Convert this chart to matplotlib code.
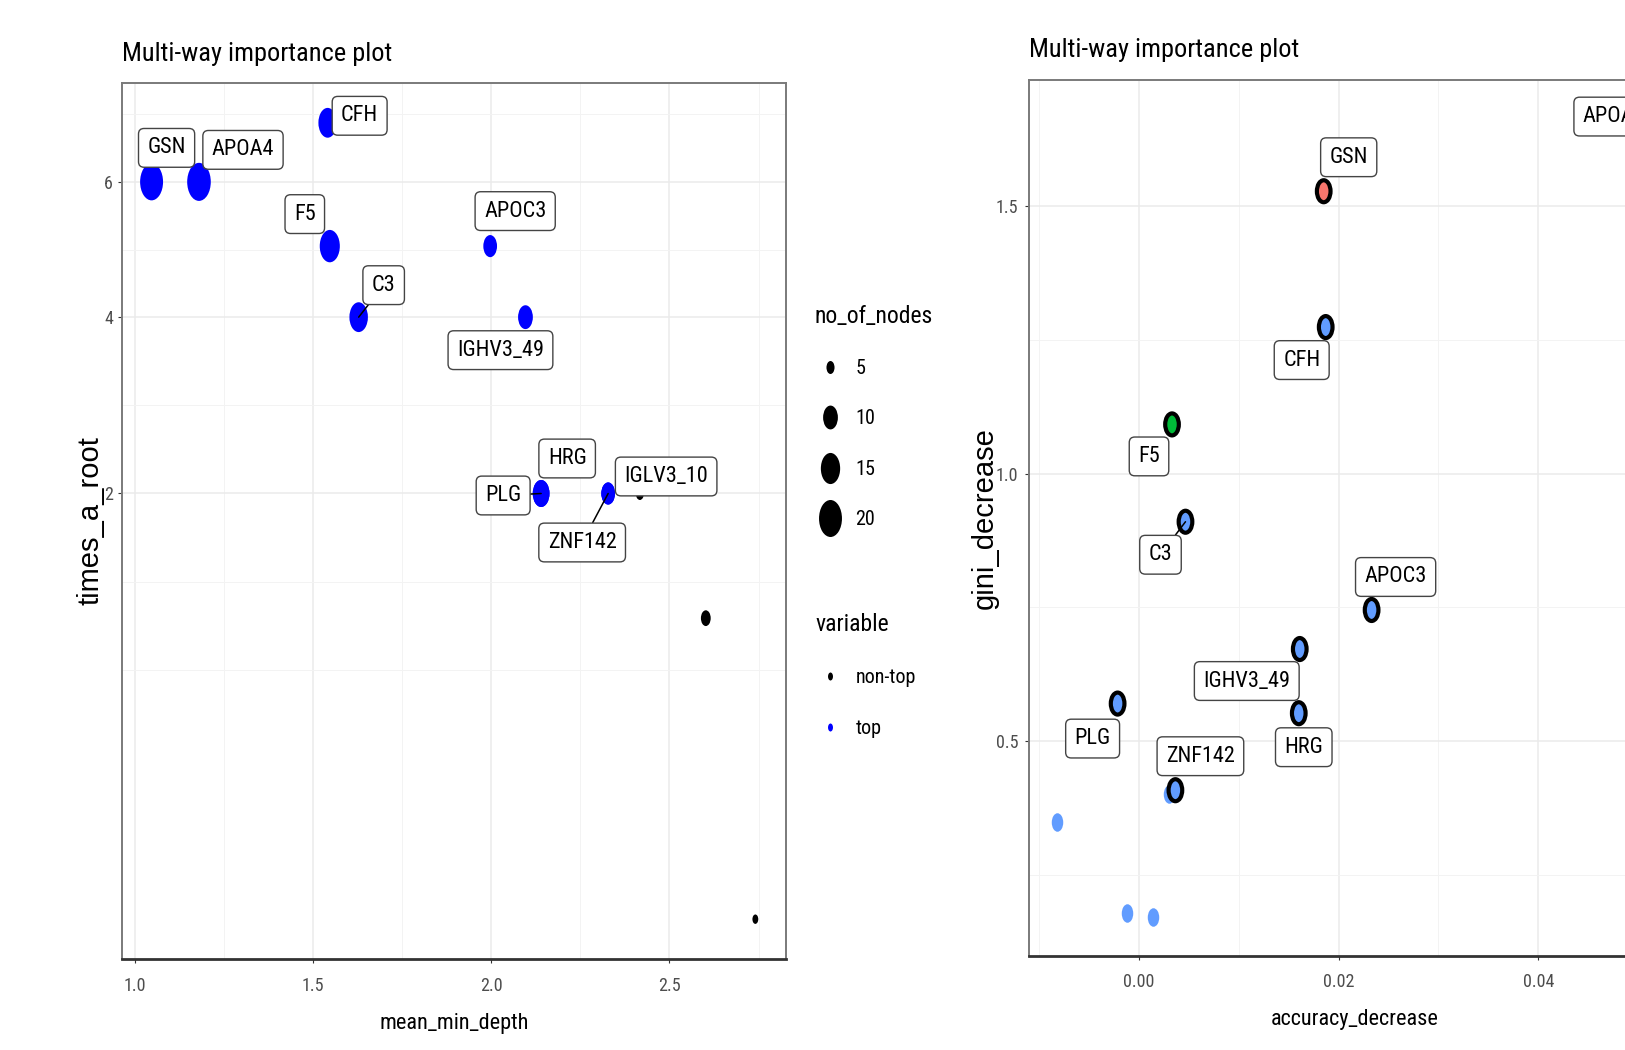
import numpy as np
import matplotlib
matplotlib.use("Agg")
import matplotlib.pyplot as plt
from matplotlib.path import Path
from matplotlib.lines import Line2D
from matplotlib.ticker import FixedLocator, MultipleLocator, FormatStrFormatter
from matplotlib import font_manager

# ---- left plot: mean_min_depth vs times_a_root ----
top_names = ["GSN", "APOA4", "CFH", "F5", "C3", "APOC3", "IGHV3_49",
             "HRG", "PLG", "IGLV3_10", "ZNF142"]
top_mean_min_depth = [1.047, 1.180, 1.541, 1.547, 1.628, 1.997, 2.096,
                      2.140, 2.140, 2.328, 2.328]
top_times_a_root = [6, 6, 7, 5, 4, 5, 4, 2, 2, 2, 2]
top_no_of_nodes = [20, 21, 14, 16, 14, 9, 10, 12, 12, 9, 9]

other_mean_min_depth = [2.417, 2.602, 2.741]
other_times_a_root = [2, 1, 0]
other_no_of_nodes = [5, 6, 4]

size_legend_values = [5, 10, 15, 20]
variable_levels = ["non-top", "top"]

# ---- right plot: accuracy_decrease vs gini_decrease ----
imp_names = ["APOA4", "GSN", "CFH", "F5", "C3", "APOC3", "IGHV3_49",
             "HRG", "PLG", "ZNF142"]
imp_accuracy_decrease = [0.0512, 0.0185, 0.0187, 0.0033, 0.00465, 0.0233,
                         0.0161, 0.0160, -0.00215, 0.00364]
imp_gini_decrease = [1.662, 1.528, 1.274, 1.092, 0.910, 0.745, 0.672,
                     0.552, 0.570, 0.408]
imp_class = [0, 0, 2, 1, 2, 2, 2, 2, 2, 2]

other_accuracy_decrease = [-0.00818, -0.00118, 0.00136, 0.0030]
other_gini_decrease = [0.349, 0.178, 0.170, 0.401]

# ---- styles ----
W, H = 1625, 1050
installed = {f.name for f in font_manager.fontManager.ttflist}
narrow = [f for f in ["Liberation Sans Narrow", "Roboto Condensed",
                      "Open Sans Condensed", "DejaVu Sans Condensed"]
          if f in installed]
FONT_N = narrow + ["Liberation Sans", "DejaVu Sans"]
STRETCH = "condensed"
FONT_R = ["Liberation Sans", "DejaVu Sans"]
class_colors = ["#F8766D", "#00BA38", "#619CFF"]
PX = 100 / 72.0  # pixels per point

# squashed-circle marker (the reference is horizontally compressed)
circ = Path.unit_circle()
ELL = Path(circ.vertices * np.array([0.62, 1.0]), circ.codes)


def node_size_pt(n):
    # marker height in px: area grows linearly with no_of_nodes
    return np.sqrt(80.0 * np.asarray(n, dtype=float) - 231.0) / PX


label_off_left = {"GSN": (15, 34), "APOA4": (44, 32), "CFH": (32, 7),
                  "F5": (-25, 32), "C3": (25, 32), "APOC3": (25, 35),
                  "IGHV3_49": (-25, -33), "HRG": (26, 35), "PLG": (-38, -2),
                  "IGLV3_10": (58, 17), "ZNF142": (-26, -49)}
seg_left = {"C3", "PLG", "ZNF142"}
label_off_right = {"APOA4": (-36, 3), "GSN": (25, 34), "CFH": (-24, -33),
                   "F5": (-23, -32), "C3": (-25, -33), "APOC3": (24, 33),
                   "IGHV3_49": (-53, -32), "HRG": (5, -34), "PLG": (-25, -35),
                   "ZNF142": (25, 34)}
seg_right = {"C3"}

box = dict(boxstyle="round,pad=0.4,rounding_size=0.25", fc="white",
           ec="#444444", lw=1.0)


def fp(size):
    return font_manager.FontProperties(family=FONT_N, size=size,
                                       stretch=STRETCH)


def style_axes(ax, xpad, ypad):
    ax.set_facecolor("white")
    for s in ["top", "left", "right"]:
        ax.spines[s].set_color("#7a7a7a")
        ax.spines[s].set_linewidth(1.4)
    ax.spines["bottom"].set_color("#333333")
    ax.spines["bottom"].set_linewidth(2.0)
    ax.grid(True, which="major", color="#EBEBEB", lw=1.1)
    ax.grid(True, which="minor", color="#F3F3F3", lw=0.7)
    ax.set_axisbelow(True)
    ax.tick_params(which="major", length=3, width=0.8, color="#333333",
                   labelcolor="#4D4D4D")
    ax.tick_params(axis="x", pad=xpad)
    ax.tick_params(axis="y", pad=ypad)
    ax.tick_params(which="minor", length=0)
    for lab in ax.get_xticklabels() + ax.get_yticklabels():
        lab.set_fontproperties(fp(13))


def add_labels(ax, xs, ys, names, offsets, segs):
    for x, y, nm in zip(xs, ys, names):
        arrow = None
        if nm in segs:
            arrow = dict(arrowstyle="-", color="black", lw=1.1,
                         shrinkA=0, shrinkB=0)
        ax.annotate(nm, xy=(x, y), xytext=offsets[nm],
                    textcoords="offset pixels", ha="center", va="center",
                    fontproperties=fp(16), color="black", bbox=box,
                    arrowprops=arrow, zorder=5)


fig = plt.figure(figsize=(W / 100, H / 100), dpi=100)
fig.patch.set_facecolor("white")

# ================= left panel =================
axL = fig.add_axes([122 / W, 1 - 959 / H, 664 / W, 876 / H])


def sq(v):
    v = np.asarray(v, dtype=float)
    return np.sign(v) * np.sqrt(np.abs(v))


def isq(v):
    v = np.asarray(v, dtype=float)
    return np.sign(v) * v ** 2


axL.set_yscale("function", functions=(sq, isq))
axL.set_xlim(0.964, 2.827)
axL.set_ylim(-0.0175, 7.717)

axL.scatter(other_mean_min_depth, other_times_a_root,
            s=node_size_pt(other_no_of_nodes) ** 2, marker=ELL,
            color="black", linewidths=0, zorder=3)
axL.scatter(top_mean_min_depth, top_times_a_root,
            s=node_size_pt(top_no_of_nodes) ** 2, marker=ELL,
            color="#0000FF", linewidths=0, zorder=3)

majL = [2, 4, 6]
axL.yaxis.set_major_locator(FixedLocator(majL))
b = list(np.sqrt(majL))
b = [b[0] - (b[1] - b[0])] + b + [b[-1] + (b[-1] - b[-2])]
minL = [b[0]] + [(b[i] + b[i + 1]) / 2 for i in range(len(b) - 1)]
axL.yaxis.set_minor_locator(FixedLocator([m ** 2 for m in minL]))
axL.yaxis.set_major_formatter(FormatStrFormatter("%d"))
axL.xaxis.set_major_locator(MultipleLocator(0.5))
axL.xaxis.set_minor_locator(MultipleLocator(0.25))
axL.xaxis.set_major_formatter(FormatStrFormatter("%.1f"))
style_axes(axL, 10, 3.5)

add_labels(axL, top_mean_min_depth, top_times_a_root, top_names,
           label_off_left, seg_left)

axL.set_xlabel("mean_min_depth", fontproperties=fp(16))
axL.xaxis.set_label_coords(0.5, -0.074)
axL.xaxis.label.set_va("center")
axL.set_ylabel("times_a_root", fontsize=21, family=FONT_R)
axL.yaxis.set_label_coords(-0.048, 0.5)
axL.yaxis.label.set_va("center")

fig.text(122 / W, 1 - 61 / H, "Multi-way importance plot",
         fontproperties=fp(19), ha="left", va="baseline")

# legends for the left panel
size_handles = [Line2D([], [], ls="", marker=ELL, markersize=node_size_pt(n),
                       color="black", markeredgewidth=0)
                for n in size_legend_values]
leg1 = fig.legend(size_handles, [str(n) for n in size_legend_values],
                  title="no_of_nodes", loc="upper left",
                  bbox_to_anchor=(815 / W, 1 - 305 / H), frameon=False,
                  borderpad=0, borderaxespad=0, handlelength=1.47,
                  handletextpad=0.53, labelspacing=1.55, alignment="left",
                  prop=fp(14.5), title_fontproperties=fp(17))

var_handles = [Line2D([], [], ls="", marker=ELL, markersize=8 / PX,
                      color=c, markeredgewidth=0)
               for c in ["black", "#0000FF"]]
leg2 = fig.legend(var_handles, variable_levels, title="variable",
                  loc="upper left", bbox_to_anchor=(815 / W, 1 - 613 / H),
                  frameon=False, borderpad=0, borderaxespad=0,
                  handlelength=1.47, handletextpad=0.53, labelspacing=1.6,
                  alignment="left", prop=fp(14.5),
                  title_fontproperties=fp(17))

# ================= right panel =================
axR = fig.add_axes([1029 / W, 1 - 956 / H, 651 / W, 876 / H])
axR.set_xlim(-0.01103, 0.0542)
axR.set_ylim(0.098, 1.736)

axR.scatter(other_accuracy_decrease, other_gini_decrease,
            s=(18.5 / PX) ** 2, marker=ELL, color="#619CFF",
            linewidths=0, zorder=3)
axR.scatter(imp_accuracy_decrease, imp_gini_decrease,
            s=(22 / PX) ** 2, marker=ELL,
            c=[class_colors[k] for k in imp_class],
            edgecolors="black", linewidths=3.0, zorder=4)

axR.xaxis.set_major_locator(MultipleLocator(0.02))
axR.xaxis.set_minor_locator(MultipleLocator(0.01))
axR.xaxis.set_major_formatter(FormatStrFormatter("%.2f"))
axR.yaxis.set_major_locator(MultipleLocator(0.5))
axR.yaxis.set_minor_locator(MultipleLocator(0.25))
axR.yaxis.set_major_formatter(FormatStrFormatter("%.1f"))
style_axes(axR, 9, 4.6)

add_labels(axR, imp_accuracy_decrease, imp_gini_decrease, imp_names,
           label_off_right, seg_right)

axR.set_xlabel("accuracy_decrease", fontproperties=fp(16))
axR.xaxis.set_label_coords(0.5, -0.072)
axR.xaxis.label.set_va("center")
axR.set_ylabel("gini_decrease", fontsize=21, family=FONT_R)
axR.yaxis.set_label_coords(-0.0676, 0.5)
axR.yaxis.label.set_va("center")

fig.text(1029 / W, 1 - 57.5 / H, "Multi-way importance plot",
         fontproperties=fp(19), ha="left", va="baseline")

fig.savefig("out.png", dpi=100, facecolor="white")
